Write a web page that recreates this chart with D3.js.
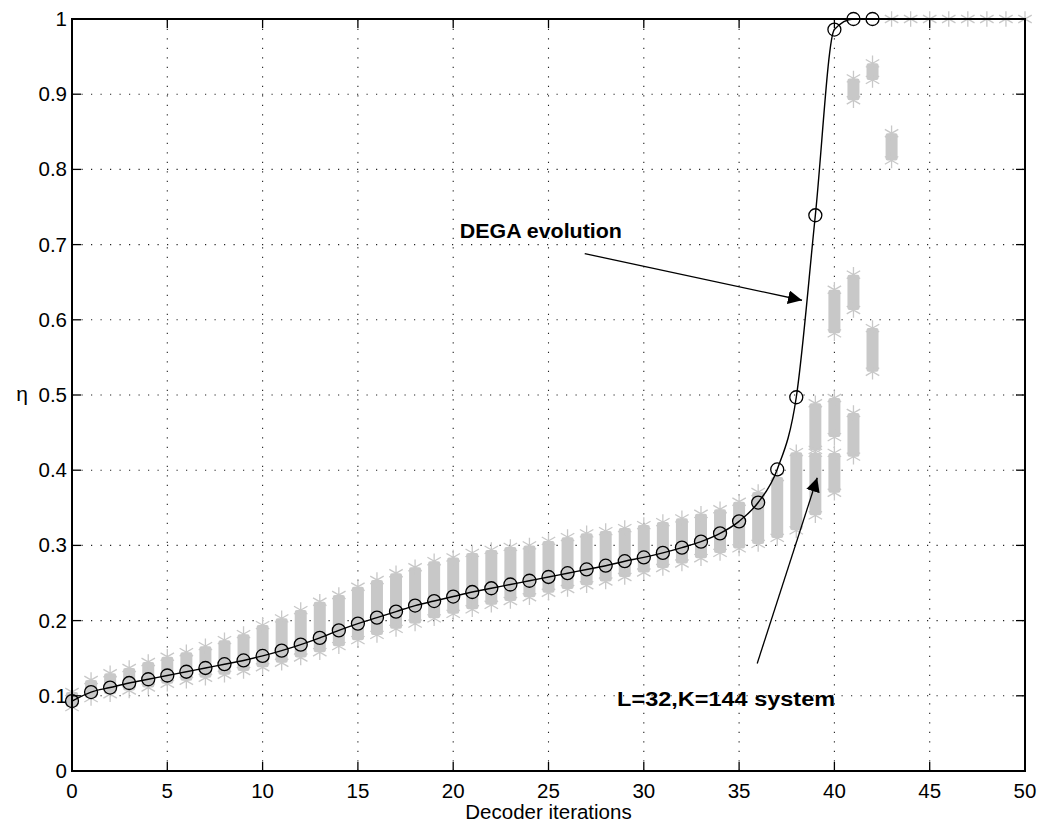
<!DOCTYPE html>
<html lang="en">
	<head>
		<meta charset="utf-8">
		<title>DEGA evolution vs decoder iterations</title>
		<script type="text/javascript" src="https://cdnjs.cloudflare.com/ajax/libs/d3/7.8.5/d3.min.js"></script>
		<style type="text/css">
			body { margin:0; background:#fff; }
			text { font-family: "Liberation Sans", Arial, sans-serif; }
		</style>
	</head>
	<body>
		<script type="text/javascript">

			//Width and height
			var w = 1037;
			var h = 823;
			var margin = {left:72, right:12, top:19, bottom:52};

			// DEGA prediction (circles + line)
			var degaIter = d3.range(0, 43);
			var degaEta = [0.093,0.105,0.111,0.117,0.122,0.127,0.132,0.137,0.142,0.147,
				0.153,0.160,0.168,0.177,0.187,0.196,0.204,0.212,0.220,0.226,
				0.232,0.238,0.243,0.248,0.253,0.258,0.263,0.268,0.273,0.279,
				0.284,0.290,0.297,0.305,0.316,0.332,0.357,0.401,0.497,0.739,
				0.986,1.0,1.0];

			// simulated L=32,K=144 system: vertical stacks of '*' (iteration, low, high)
			var simIter = [0,1,2,3,4,5,6,7,8,9,10,11,12,13,14,15,16,17,18,19,
				20,21,22,23,24,25,26,27,28,29,30,31,32,33,34,35,36,37,38,
				39,39,40,40,40,41,41,41,42,42,43];
			var simLo = [0.085,0.097,0.102,0.107,0.111,0.116,0.120,0.124,0.128,0.133,
				0.138,0.144,0.151,0.158,0.166,0.174,0.181,0.189,0.196,0.203,
				0.209,0.215,0.221,0.226,0.231,0.237,0.242,0.247,0.252,0.258,
				0.264,0.270,0.276,0.283,0.290,0.296,0.302,0.310,0.320,
				0.340,0.427,0.370,0.444,0.582,0.418,0.613,0.892,0.531,0.919,0.812];
			var simHi = [0.105,0.121,0.130,0.137,0.145,0.152,0.158,0.166,0.174,0.182,
				0.194,0.203,0.214,0.225,0.234,0.245,0.254,0.263,0.271,0.279,
				0.284,0.290,0.294,0.298,0.300,0.306,0.311,0.316,0.319,0.323,
				0.327,0.331,0.336,0.342,0.348,0.358,0.371,0.391,0.424,
				0.423,0.489,0.423,0.496,0.640,0.476,0.660,0.921,0.589,0.941,0.848];

			// converged runs sitting at eta = 1
			var doneIter = [43,44,45,46,47,48,49,50];
			var doneEta = [1,1,1,1,1,1,1,1];

			var xTicks = d3.range(0, 51, 5);
			var yTicks = d3.range(0, 11).map(d => d/10);

			var xScale = d3.scaleLinear()
							.domain([0,50])
							.range([margin.left, w-margin.right]);

			var yScale = d3.scaleLinear()
							.domain([0,1])
							.range([h-margin.bottom, margin.top]);

			var svg = d3.select('body')
							.append('svg')
							.attr('width',w)
							.attr('height',h);

			var gray = '#c8c8c8';
			var star = d3.symbol().type(d3.symbolAsterisk).size(170);

			// grid
			var grid = svg.append('g')
					.attr('stroke','#222')
					.attr('stroke-width',1.1)
					.attr('stroke-dasharray','1.2,8.3');
			grid.selectAll('line.v')
					.data(xTicks.slice(1,-1))
					.enter().append('line')
					.attr('x1',d=>xScale(d)).attr('x2',d=>xScale(d))
					.attr('y1',yScale(0)).attr('y2',yScale(1));
			grid.selectAll('line.h')
					.data(yTicks.slice(1,-1))
					.enter().append('line')
					.attr('y1',d=>yScale(d)).attr('y2',d=>yScale(d))
					.attr('x1',xScale(0)).attr('x2',xScale(50));

			// simulated stacks
			var sim = svg.append('g').attr('fill',gray).attr('stroke',gray);
			var stacks = simIter.map((it,i)=>({it:it, lo:simLo[i], hi:simHi[i]}));
			sim.selectAll('rect')
					.data(stacks)
					.enter().append('rect')
					.attr('x',d=>xScale(d.it)-6)
					.attr('width',12)
					.attr('y',d=>yScale(d.hi))
					.attr('height',d=>yScale(d.lo)-yScale(d.hi))
					.attr('rx',2)
					.attr('stroke','none');
			var ends = [];
			stacks.forEach(d=>{ ends.push({it:d.it, v:d.hi}); ends.push({it:d.it, v:d.lo}); });
			doneIter.forEach((it,i)=>ends.push({it:it, v:doneEta[i]}));
			sim.selectAll('path')
					.data(ends)
					.enter().append('path')
					.attr('d',star)
					.attr('stroke-width',1.3)
					.attr('transform',d=>`translate(${xScale(d.it)},${yScale(d.v)})`);

			// DEGA curve
			var line = d3.line()
							.x((d,i)=>xScale(degaIter[i]))
							.y(d=>yScale(d))
							.curve(d3.curveMonotoneX);
			svg.append('path')
					.datum(degaEta)
					.attr('fill','none')
					.attr('stroke','#000')
					.attr('stroke-width',1.4)
					.attr('d',line);
			svg.append('g')
					.attr('fill','none')
					.attr('stroke','#000')
					.attr('stroke-width',1.3)
				.selectAll('circle')
					.data(degaEta)
					.enter().append('circle')
					.attr('cx',(d,i)=>xScale(degaIter[i]))
					.attr('cy',d=>yScale(d))
					.attr('r',6.5);

			// axes: box with inward ticks
			var tick = 9;
			var axisG = svg.append('g').attr('stroke','#000').attr('stroke-width',1.3);
			axisG.append('rect')
					.attr('x',xScale(0)).attr('y',yScale(1))
					.attr('width',xScale(50)-xScale(0))
					.attr('height',yScale(0)-yScale(1))
					.attr('fill','none')
					.attr('stroke-width',2);
			xTicks.forEach(t=>{
				axisG.append('line').attr('x1',xScale(t)).attr('x2',xScale(t))
					.attr('y1',yScale(0)).attr('y2',yScale(0)-tick);
				axisG.append('line').attr('x1',xScale(t)).attr('x2',xScale(t))
					.attr('y1',yScale(1)).attr('y2',yScale(1)+tick);
			});
			yTicks.forEach(t=>{
				axisG.append('line').attr('y1',yScale(t)).attr('y2',yScale(t))
					.attr('x1',xScale(0)).attr('x2',xScale(0)+tick);
				axisG.append('line').attr('y1',yScale(t)).attr('y2',yScale(t))
					.attr('x1',xScale(50)).attr('x2',xScale(50)-tick);
			});

			svg.append('g')
					.attr('font-size',20.5)
					.attr('text-anchor','middle')
				.selectAll('text')
					.data(xTicks)
					.enter().append('text')
					.attr('x',d=>xScale(d))
					.attr('y',yScale(0)+27)
					.text(d=>d);
			svg.append('g')
					.attr('font-size',20.5)
					.attr('text-anchor','end')
				.selectAll('text')
					.data(yTicks)
					.enter().append('text')
					.attr('x',xScale(0)-5)
					.attr('y',d=>yScale(d)+7)
					.text(d=>d);

			svg.append('text')
					.attr('x',(xScale(0)+xScale(50))/2)
					.attr('y',h-4)
					.attr('font-size',20.5)
					.attr('text-anchor','middle')
					.text('Decoder iterations');
			svg.append('text')
					.attr('x',22)
					.attr('y',yScale(0.5)+6)
					.attr('font-size',21)
					.attr('text-anchor','middle')
					.text('η');

			// annotations
			var defs = svg.append('defs');
			defs.append('marker')
					.attr('id','head')
					.attr('viewBox','0 0 10 10')
					.attr('refX',10).attr('refY',5)
					.attr('markerWidth',14).attr('markerHeight',14)
					.attr('markerUnits','userSpaceOnUse')
					.attr('orient','auto')
				.append('path')
					.attr('d','M0,0 L10,5 L0,10 z')
					.attr('fill','#000');

			var notes = [
				{text:'DEGA evolution', len:162, tx:20.35, ty:0.709, x1:26.9, y1:0.688, x2:38.3, y2:0.626},
				{text:'L=32,K=144 system', len:218, tx:28.6, ty:0.086, x1:35.95, y1:0.143, x2:39.1, y2:0.39}
			];
			notes.forEach(n=>{
				svg.append('text')
						.attr('x',xScale(n.tx))
						.attr('y',yScale(n.ty))
						.attr('font-size',20)
						.attr('font-weight','bold')
						.attr('textLength',n.len)
						.attr('lengthAdjust','spacingAndGlyphs')
						.text(n.text);
				svg.append('line')
						.attr('x1',xScale(n.x1)).attr('y1',yScale(n.y1))
						.attr('x2',xScale(n.x2)).attr('y2',yScale(n.y2))
						.attr('stroke','#000')
						.attr('stroke-width',1.3)
						.attr('marker-end','url(#head)');
			});
		</script>
	</body>
</html>
